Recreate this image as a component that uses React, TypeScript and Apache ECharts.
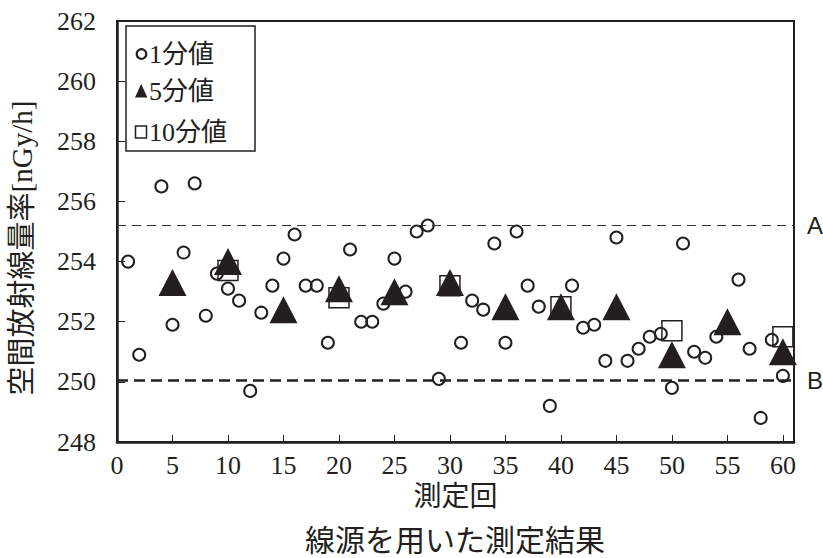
import React, { useEffect, useRef } from "react";
import * as echarts from "echarts";

// 1分値 (one-minute values): measurement number and dose rate [nGy/h]
const run1 = [1, 2, 4, 5, 6, 7, 8, 9, 10, 11, 12, 13, 14, 15, 16, 17, 18, 19, 21, 22, 23, 24, 25, 26, 27, 28, 29, 31, 32, 33, 34, 35, 36, 37, 38, 39, 41, 42, 43, 44, 45, 46, 47, 48, 49, 50, 51, 52, 53, 54, 56, 57, 58, 59, 60];
const val1 = [254.0, 250.9, 256.5, 251.9, 254.3, 256.6, 252.2, 253.6, 253.1, 252.7, 249.7, 252.3, 253.2, 254.1, 254.9, 253.2, 253.2, 251.3, 254.4, 252.0, 252.0, 252.6, 254.1, 253.0, 255.0, 255.2, 250.1, 251.3, 252.7, 252.4, 254.6, 251.3, 255.0, 253.2, 252.5, 249.2, 253.2, 251.8, 251.9, 250.7, 254.8, 250.7, 251.1, 251.5, 251.6, 249.8, 254.6, 251.0, 250.8, 251.5, 253.4, 251.1, 248.8, 251.4, 250.2];

// 5分値
const run5 = [5, 10, 15, 20, 25, 30, 35, 40, 45, 50, 55, 60];
const val5 = [253.3, 254.0, 252.4, 253.1, 253.0, 253.3, 252.5, 252.5, 252.5, 250.9, 252.0, 251.0];

// 10分値
const run10 = [10, 20, 30, 40, 50, 60];
const val10 = [253.7, 252.8, 253.2, 252.5, 251.7, 251.5];

const seriesNames = ["1分値", "5分値", "10分値"];
const refLines = [255.2, 250.05];
const refLabels = ["A", "B"];

const xMin = 0, xMax = 61, xStep = 5;
const yMin = 248, yMax = 262, yStep = 2;

const xTitle = "測定回";
const yTitle = "空間放射線量率[nGy/h]";
const caption = "線源を用いた測定結果";

const INK = "#231f20";
const SERIF = "'Liberation Serif', 'Noto Sans CJK JP', serif";
const SANS = "'Liberation Sans', sans-serif";

export default function App() {
  const ref = useRef<HTMLDivElement>(null);
  useEffect(() => {
    const chart = echarts.init(ref.current!, null, { renderer: "svg" });
    const pts = (xs: number[], ys: number[]) => xs.map((x, i) => [x, ys[i]]);
    const refLabel = (t: string) => ({ show: true, position: "end", distance: 13, formatter: t, fontFamily: SANS, fontSize: 24, color: INK });
    chart.setOption({
      animation: false,
      backgroundColor: "#fff",
      grid: { left: 117, right: 29, top: 21, bottom: 116, show: true, borderColor: INK, borderWidth: 2, backgroundColor: "transparent" },
      xAxis: {
        type: "value", min: xMin, max: xMax, interval: xStep,
        name: xTitle, nameLocation: "middle", nameGap: 38,
        nameTextStyle: { fontFamily: SERIF, fontSize: 28, color: INK },
        axisLine: { show: true, lineStyle: { color: INK, width: 2.5 } },
        axisTick: { show: true, inside: true, length: 7, lineStyle: { color: INK, width: 1 } },
        axisLabel: { formatter: (v: number) => (v % xStep === 0 ? String(v) : ""), fontFamily: SERIF, fontSize: 26, color: INK, margin: 10 },
        splitLine: { show: false },
      },
      yAxis: {
        type: "value", min: yMin, max: yMax, interval: yStep,
        axisLine: { show: true, lineStyle: { color: INK, width: 2.5 } },
        axisTick: { show: true, inside: true, length: 8, lineStyle: { color: INK, width: 1 } },
        axisLabel: { fontFamily: SERIF, fontSize: 26, color: INK, margin: 21 },
        splitLine: { show: false },
      },
      series: [
        {
          name: seriesNames[0], type: "scatter", data: pts(run1, val1), symbol: "circle", symbolSize: 12, z: 2,
          itemStyle: { color: "transparent", borderColor: INK, borderWidth: 2, opacity: 1 },
          emphasis: { disabled: true },
          markLine: {
            silent: true, symbol: "none",
            label: refLabel(""),
            emphasis: { disabled: true },
            data: [
              { yAxis: refLines[0], label: refLabel(refLabels[0]), lineStyle: { type: [9, 6], width: 1.2, color: "#333", opacity: 1 } },
              { yAxis: refLines[1], label: refLabel(refLabels[1]), lineStyle: { type: [11, 6], width: 2.5, color: INK, opacity: 1 } },
            ],
          },
        },
        {
          name: seriesNames[2], type: "scatter", data: pts(run10, val10), symbol: "rect", symbolSize: 20, z: 3,
          itemStyle: { color: "transparent", borderColor: INK, borderWidth: 1.5, opacity: 1 },
          emphasis: { disabled: true },
        },
        {
          name: seriesNames[1], type: "scatter", data: pts(run5, val5), symbol: "triangle", symbolSize: [28, 27], z: 4,
          itemStyle: { color: INK, opacity: 1 },
          emphasis: { disabled: true },
        },
      ],
      graphic: [
        { type: "rect", z: 100, shape: { x: 126, y: 26, width: 129, height: 125 }, style: { fill: "#fff", stroke: INK, lineWidth: 1.5 } },
        { type: "circle", z: 101, shape: { cx: 141.5, cy: 54, r: 4.8 }, style: { fill: "none", stroke: INK, lineWidth: 2.2 } },
        { type: "text", z: 101, style: { x: 149, y: 54, text: seriesNames[0], fontFamily: SERIF, fontSize: 26, fill: INK, textVerticalAlign: "middle" } },
        { type: "polygon", z: 101, shape: { points: [[135, 97.5], [141.2, 84], [147.4, 97.5]] }, style: { fill: INK } },
        { type: "text", z: 101, style: { x: 149, y: 91, text: seriesNames[1], fontFamily: SERIF, fontSize: 26, fill: INK, textVerticalAlign: "middle" } },
        { type: "rect", z: 101, shape: { x: 135.5, y: 126, width: 11, height: 12 }, style: { fill: "none", stroke: INK, lineWidth: 1.5 } },
        { type: "text", z: 101, style: { x: 149, y: 132, text: seriesNames[2], fontFamily: SERIF, fontSize: 26, fill: INK, textVerticalAlign: "middle" } },
        { type: "text", z: 101, x: 22, y: 248, rotation: Math.PI / 2, style: { x: 0, y: 0, text: yTitle, fontFamily: SERIF, fontSize: 29, fill: INK, textAlign: "center", textVerticalAlign: "middle" } },
        { type: "text", z: 101, style: { x: 455, y: 540, text: caption, fontFamily: SERIF, fontSize: 30, fill: INK, textAlign: "center", textVerticalAlign: "middle" } },
      ],
    });
    return () => chart.dispose();
  }, []);
  return <div ref={ref} style={{ position: "fixed", left: 0, top: 0, width: 823, height: 558 }} />;
}
